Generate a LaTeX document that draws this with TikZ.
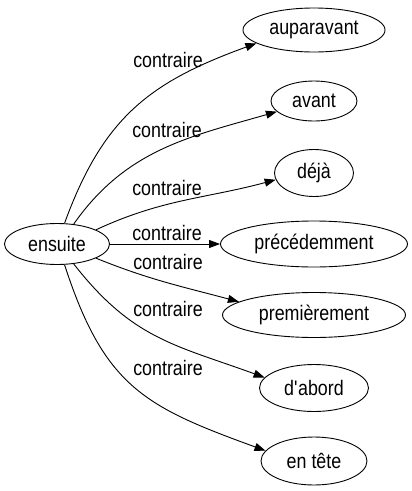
\documentclass[tikz,border=0pt]{standalone}
\usepackage{fontspec}
\setmainfont{Liberation Sans}[FakeStretch=0.85]
\usetikzlibrary{arrows.meta,shapes.geometric}

\begin{document}
\begin{tikzpicture}[
  x=1pt, y=1pt,
  word/.style={draw, ellipse, line width=0.9pt, inner sep=0pt,
               font=\fontsize{21}{24}\selectfont},
  lbl/.style={inner sep=0pt, font=\fontsize{21}{24}\selectfont},
  arr/.style={-{Triangle[length=11pt,width=8pt]}, line width=0.9pt}
]
\useasboundingbox (0,0) rectangle (412,-491);
% source word
\node[word, minimum width=105pt, minimum height=41pt] (ens) at (57,-244) {ensuite};
% opposite words
\node[word, minimum width=142pt, minimum height=44pt] (aup) at (314,-30) {auparavant};
\node[word, minimum width=86pt, minimum height=40pt] (ava) at (314,-101) {avant};
\node[word, minimum width=79pt, minimum height=47pt] (dej) at (314,-173) {déjà};
\node[word, minimum width=187pt, minimum height=46pt] (pre) at (314,-244) {précédemment};
\node[word, minimum width=183pt, minimum height=45pt] (pri) at (314,-315) {premièrement};
\node[word, minimum width=109pt, minimum height=47pt] (dab) at (314,-388) {d\textquotesingle abord};
\node[word, minimum width=106pt, minimum height=48pt] (tet) at (314,-461) {en tête};
% connectors
\draw[arr] (ens.70) to[out=70, in=200, looseness=1.1] (aup.193);
\draw[arr] (ens.50) to[out=55, in=196] (ava.196);
\draw[arr] (ens.20) to[out=25, in=195] (dej.190);
\draw[arr] (ens) -- (pre);
\draw[arr] (ens.-20) to[out=-22, in=165] (pri.170);
\draw[arr] (ens.-50) to[out=-52, in=160, looseness=1.1] (dab.168);
\draw[arr] (ens.-70) to[out=-72, in=160, looseness=1.2] (tet.168);
% labels
\node[lbl] (c1) at (168,-60) {contraire};
\node[lbl] (c2) at (167,-130) {contraire};
\node[lbl] (c3) at (167,-188) {contraire};
\node[lbl] (c4) at (167,-233) {contraire};
\node[lbl] (c5) at (168,-262) {contraire};
\node[lbl] (c6) at (168,-309) {contraire};
\node[lbl] (c7) at (168,-368) {contraire};
\end{tikzpicture}
\end{document}
